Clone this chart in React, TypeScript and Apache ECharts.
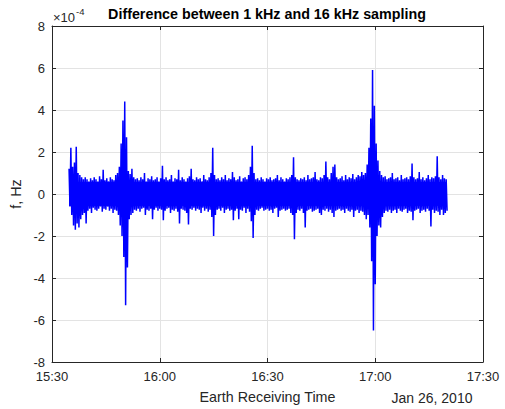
import React, { useEffect, useRef } from "react";
import * as echarts from "echarts";

// x axis: minutes after 15:30 on Jan 26, 2010
const xTickLabels = ["15:30", "16:00", "16:30", "17:00", "17:30"];
const yTicks = [-8, -6, -4, -2, 0, 2, 4, 6, 8];
const titleText = "Difference between 1 kHz and 16 kHz sampling";
const xName = "Earth Receiving Time";
const yName = "f, Hz";
const dateText = "Jan 26, 2010";

// Frequency difference (units of 1e-4 Hz): max and min in each 0.5-minute bin
const startMinute = 4.75;
const binMinutes = 0.5;
// half-width of the solid, densely sampled noise band
const coreHalfWidth = 0.55;
const upper = [
  1.2, 2.2, 1.3, 1.5, 2.25, 1.0, 0.9, 0.8, 0.7, 0.8,
  0.7, 0.6, 0.75, 0.65, 0.8, 0.7, 0.6, 0.85, 0.7, 1.15,
  0.65, 0.75, 0.6, 0.8, 0.7, 0.65, 0.9, 1.0, 1.3, 2.4,
  3.5, 4.4, 2.7, 1.1, 0.95, 1.2, 0.8, 0.7, 0.75, 0.65,
  0.8, 0.7, 1.0, 0.6, 0.75, 0.7, 0.85, 0.65, 0.7, 0.8,
  0.6, 0.75, 1.35, 0.7, 0.8, 0.65, 0.7, 0.9, 0.6, 0.75,
  0.7, 1.15, 0.65, 0.8, 0.7, 0.6, 0.75, 0.85, 1.2, 0.7,
  0.65, 0.8, 0.7, 0.75, 0.6, 0.9, 0.7, 0.65, 0.8, 1.0,
  2.2, 0.9, 0.7, 0.75, 0.65, 0.8, 0.7, 0.9, 0.65, 0.75,
  0.7, 1.05, 0.8, 0.65, 0.7, 0.85, 0.6, 0.75, 0.8, 0.7,
  0.9, 1.3, 2.3, 1.0, 0.7, 0.75, 0.65, 0.8, 0.7, 0.6,
  0.75, 0.7, 0.8, 0.65, 0.7, 0.75, 0.9, 0.65, 0.8, 0.7,
  0.6, 0.75, 0.7, 0.8, 0.9, 1.75, 0.8, 0.7, 0.65, 0.75,
  0.7, 0.8, 0.65, 0.9, 0.7, 0.75, 0.8, 1.05, 0.7, 0.65,
  0.8, 0.75, 0.9, 1.55, 0.8, 0.7, 1.0, 1.3, 1.4, 0.8,
  0.7, 0.75, 0.85, 0.65, 0.9, 0.7, 0.8, 0.75, 0.95, 0.7,
  0.8, 0.9, 0.85, 1.05, 0.9, 1.0, 1.4, 2.2, 3.6, 5.9,
  4.2, 2.4, 1.6, 1.1, 0.9, 0.8, 0.85, 0.7, 0.75, 0.8,
  1.0, 0.7, 0.75, 0.8, 0.65, 0.9, 0.7, 0.75, 0.8, 0.7,
  0.85, 1.45, 0.8, 0.7, 0.75, 1.05, 0.7, 0.8, 0.65, 0.75,
  0.9, 0.7, 0.8, 0.75, 0.85, 1.8, 0.8, 0.7, 0.9, 0.75, 0.7,
];
const lower = [
  -0.6, -1.0, -1.5, -1.7, -1.4, -1.6, -1.2, -1.0, -0.9, -1.4,
  -0.8, -0.7, -0.9, -0.65, -0.75, -0.8, -0.7, -0.6, -0.85, -0.7,
  -0.75, -0.6, -0.8, -0.7, -0.9, -0.75, -0.8, -1.0, -1.5, -2.0,
  -3.0, -5.3, -3.5, -1.2, -1.0, -0.9, -0.75, -0.8, -0.7, -0.85,
  -0.7, -0.65, -1.0, -0.75, -0.8, -0.7, -1.2, -0.75, -0.65, -0.8,
  -0.7, -0.75, -1.25, -0.8, -0.7, -0.65, -0.9, -0.75, -0.8, -0.7,
  -0.85, -1.4, -0.7, -0.75, -0.8, -0.9, -1.45, -0.7, -0.75, -0.65,
  -0.8, -0.7, -0.75, -0.9, -0.65, -0.8, -0.7, -0.85, -0.75, -1.1,
  -2.0, -1.0, -0.75, -0.7, -0.8, -0.65, -0.9, -0.75, -0.7, -0.8,
  -0.75, -1.25, -0.8, -0.7, -1.2, -0.75, -0.8, -0.65, -0.9, -0.7,
  -0.85, -1.3, -2.1, -1.0, -0.75, -0.8, -0.7, -0.65, -0.8, -0.75,
  -0.7, -0.8, -0.75, -0.9, -0.7, -0.65, -1.1, -0.8, -0.75, -0.7,
  -0.8, -0.75, -0.7, -0.9, -1.0, -2.15, -0.9, -0.75, -0.8, -0.7,
  -0.9, -1.6, -0.8, -0.75, -0.7, -0.85, -0.8, -0.75, -0.7, -0.9,
  -1.0, -0.75, -0.8, -0.7, -0.85, -0.75, -0.9, -1.1, -0.8, -0.75,
  -0.7, -0.8, -0.75, -0.9, -0.7, -0.8, -0.85, -0.75, -1.1, -0.8,
  -0.75, -0.9, -0.8, -0.85, -1.0, -1.2, -1.0, -1.6, -3.2, -6.5,
  -4.3, -2.0, -1.5, -1.6, -1.1, -0.9, -0.8, -0.85, -0.75, -0.9,
  -0.8, -0.75, -0.9, -0.7, -0.8, -0.85, -0.75, -0.7, -0.9, -0.8,
  -0.85, -1.25, -0.8, -0.75, -0.7, -0.9, -0.8, -0.75, -0.85, -0.7,
  -0.8, -1.55, -0.75, -0.9, -0.8, -0.85, -1.0, -0.75, -1.0, -0.9, -0.8,
];

const FONT = "'Liberation Sans', Arial, Helvetica, sans-serif";
const AX = "#262626";
const GRIDC = "#e3e3e3";
const BLUE = "#0000ff";

export default function App() {
  const ref = useRef<HTMLDivElement>(null);
  useEffect(() => {
    if (!ref.current) return;
    const chart = echarts.init(ref.current, null, { renderer: "svg" });
    const t = upper.map((_, i) => startMinute + binMinutes * i);
    // zig-zag trace through each bin's max then min
    const trace: number[][] = [];
    upper.forEach((v, i) => {
      trace.push([t[i], v]);
      trace.push([t[i] + binMinutes / 2, lower[i]]);
    });
    // solid core of the band
    const coreUp = upper.map((v, i) => [t[i], Math.min(v, coreHalfWidth)]);
    const coreLo = lower.map((v, i) => [t[i], Math.max(v, -coreHalfWidth)]);
    const xMax = (xTickLabels.length - 1) * 30;
    const yMin = yTicks[0];
    const yMax = yTicks[yTicks.length - 1];
    const baseX = { type: "value" as const, min: 0, max: xMax, interval: 30 };
    const baseY = { type: "value" as const, min: yMin, max: yMax, interval: 2 };
    const core = (data: number[][]) => ({
      type: "line",
      xAxisIndex: 0,
      yAxisIndex: 0,
      data,
      showSymbol: false,
      symbol: "none",
      lineStyle: { color: BLUE, width: 1 },
      itemStyle: { color: BLUE },
      areaStyle: { color: BLUE, opacity: 1, origin: 0 },
      z: 2,
    });
    chart.setOption({
      animation: false,
      backgroundColor: "#ffffff",
      textStyle: { fontFamily: FONT },
      grid: { left: 52, right: 22, top: 26, bottom: 47, containLabel: false, outerBoundsMode: "none" },
      xAxis: [
        {
          ...baseX,
          position: "bottom",
          name: xName,
          nameLocation: "middle",
          nameGap: 28,
          nameTextStyle: { color: AX, fontSize: 14.3, fontFamily: FONT },
          axisLine: { show: true, onZero: false, lineStyle: { color: AX, width: 1 } },
          axisTick: { show: true, inside: true, length: 4, lineStyle: { color: AX } },
          axisLabel: {
            color: AX,
            fontSize: 13,
            fontFamily: FONT,
            margin: 8,
            formatter: (v: number) => xTickLabels[Math.round(v / 30)] ?? "",
          },
          splitLine: { show: true, lineStyle: { color: GRIDC, width: 1 } },
        },
        {
          ...baseX,
          position: "top",
          axisLine: { show: true, onZero: false, lineStyle: { color: AX, width: 1 } },
          axisTick: { show: true, inside: true, length: 4, lineStyle: { color: AX } },
          axisLabel: { show: false },
          splitLine: { show: false },
        },
      ],
      yAxis: [
        {
          ...baseY,
          position: "left",
          name: yName,
          nameLocation: "middle",
          nameGap: 17,
          nameTextStyle: { color: AX, fontSize: 14.3, fontFamily: FONT },
          axisLine: { show: true, onZero: false, lineStyle: { color: AX, width: 1 } },
          axisTick: { show: true, inside: true, length: 4, lineStyle: { color: AX } },
          axisLabel: { color: AX, fontSize: 13, fontFamily: FONT, margin: 7 },
          splitLine: { show: true, lineStyle: { color: GRIDC, width: 1 } },
        },
        {
          ...baseY,
          position: "right",
          axisLine: { show: true, onZero: false, lineStyle: { color: AX, width: 1 } },
          axisTick: { show: true, inside: true, length: 4, lineStyle: { color: AX } },
          axisLabel: { show: false },
          splitLine: { show: false },
        },
      ],
      series: [
        core(coreUp),
        core(coreLo),
        {
          type: "line",
          xAxisIndex: 0,
          yAxisIndex: 0,
          data: trace,
          showSymbol: false,
          symbol: "none",
          lineStyle: { color: BLUE, width: 1.5 },
          itemStyle: { color: BLUE },
          z: 3,
        },
      ],
      graphic: [
        {
          type: "text",
          x: 267,
          y: 14,
          style: {
            text: titleText,
            font: `bold 14.3px ${FONT}`,
            fill: "#000000",
            align: "center",
            verticalAlign: "middle",
          },
        },
        {
          type: "text",
          x: 53,
          y: 17.5,
          style: { text: "×10", font: `13px ${FONT}`, fill: AX, align: "left", verticalAlign: "middle" },
        },
        {
          type: "text",
          x: 76,
          y: 11.5,
          style: { text: "-4", font: `9.5px ${FONT}`, fill: AX, align: "left", verticalAlign: "middle" },
        },
        {
          type: "text",
          x: 432,
          y: 398,
          style: { text: dateText, font: `14px ${FONT}`, fill: AX, align: "center", verticalAlign: "middle" },
        },
      ],
    });
    return () => chart.dispose();
  }, []);
  return (
    <div
      ref={ref}
      style={{ position: "fixed", left: 0, top: 0, width: 505, height: 409, background: "#fff" }}
    />
  );
}
